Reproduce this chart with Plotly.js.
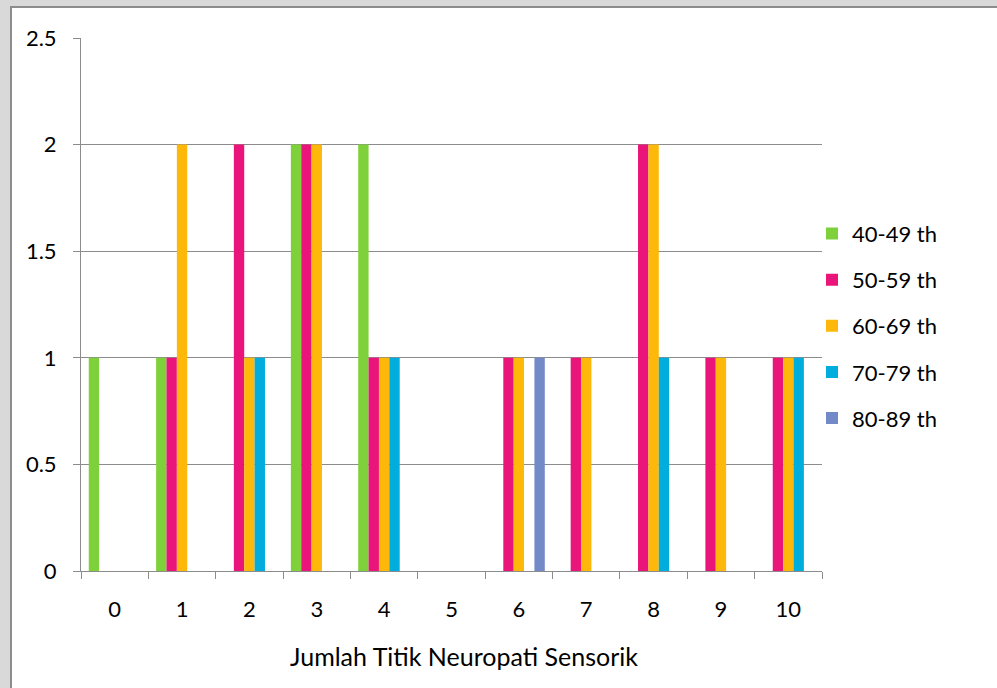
<!DOCTYPE html>
<html>
<head>
<meta charset="utf-8">
<script src="https://cdn.plot.ly/plotly-3.0.1.min.js"></script>
<style>
  html, body { margin: 0; padding: 0; width: 997px; height: 688px; overflow: hidden; background: #d9d9d9; }
  #frame { position: absolute; left: 10px; top: 6px; width: 985px; height: 680px;
           border-left: 2px solid #8c8c8c; border-top: 2px solid #8c8c8c; background: #ffffff; }
  #chart { width: 985px; height: 680px; }
</style>
</head>
<body>
<div id="frame"><div id="chart"></div></div>
<script>
// Number of sensory neuropathy points (0-10) per age group
const categories = ["0", "1", "2", "3", "4", "5", "6", "7", "8", "9", "10"];
const seriesNames = ["40-49 th", "50-59 th", "60-69 th", "70-79 th", "80-89 th"];
const age40 = [1, 1, 0, 2, 2, 0, 0, 0, 0, 0, 0];
const age50 = [0, 1, 2, 2, 1, 0, 1, 1, 2, 1, 1];
const age60 = [0, 2, 1, 2, 1, 0, 1, 1, 2, 1, 1];
const age70 = [0, 0, 1, 0, 1, 0, 0, 0, 1, 0, 1];
const age80 = [0, 0, 0, 0, 0, 0, 1, 0, 0, 0, 0];
const yTicks = [0, 0.5, 1, 1.5, 2, 2.5];
const xTitle = "Jumlah Titik Neuropati Sensorik";

const seriesValues = [age40, age50, age60, age70, age80];
const seriesColors = ["#7FD13B", "#EA157A", "#FEB80A", "#00ADDC", "#738AC8"];

const FONT = "Lato, 'Open Sans', sans-serif";
const GRID = "#8c8c8c";

const traces = seriesNames.map((name, i) => ({
  type: "bar",
  name: name,
  x: categories,
  y: seriesValues[i],
  marker: { color: seriesColors[i], line: { width: 0 } },
  legendgroup: "g" + i,
  hoverinfo: "x+y+name"
}));

const layout = {
  width: 985,
  height: 680,
  margin: { l: 69, r: 175, t: 30, b: 117 },
  paper_bgcolor: "#ffffff",
  plot_bgcolor: "#ffffff",
  font: { family: FONT, size: 22, color: "#000000" },
  barmode: "group",
  bargap: 0.23,
  bargroupgap: 0,
  showlegend: true,
  legend: {
    x: 0.9865, xanchor: "left",
    y: 0.46, yanchor: "middle",
    font: { family: FONT, size: 22, color: "#000000" },
    tracegroupgap: 14.5,
    bgcolor: "rgba(0,0,0,0)"
  },
  xaxis: {
    type: "category",
    categoryorder: "array",
    categoryarray: categories,
    showline: true,
    linecolor: GRID,
    linewidth: 1,
    ticks: "outside",
    tickson: "boundaries",
    ticklen: 7,
    tickcolor: GRID,
    tickwidth: 1,
    ticklabelstandoff: 19,
    showgrid: false,
    zeroline: false,
    tickfont: { family: FONT, size: 22, color: "#000000" }
  },
  yaxis: {
    range: [0, 2.5],
    tickvals: yTicks,
    ticktext: yTicks.map(v => String(v)),
    showline: true,
    linecolor: GRID,
    linewidth: 1,
    ticks: "outside",
    ticklen: 7,
    tickcolor: GRID,
    tickwidth: 1,
    ticklabelstandoff: 12,
    showgrid: true,
    gridcolor: GRID,
    gridwidth: 1,
    zeroline: false,
    tickfont: { family: FONT, size: 22, color: "#000000" }
  },
  annotations: [{
    text: xTitle,
    xref: "paper", yref: "paper",
    x: 0.5175, y: -0.1595,
    xanchor: "center", yanchor: "middle",
    showarrow: false,
    font: { family: FONT, size: 25, color: "#000000" }
  }]
};

Plotly.newPlot("chart", traces, layout, { displayModeBar: false, staticPlot: true });
</script>
</body>
</html>
